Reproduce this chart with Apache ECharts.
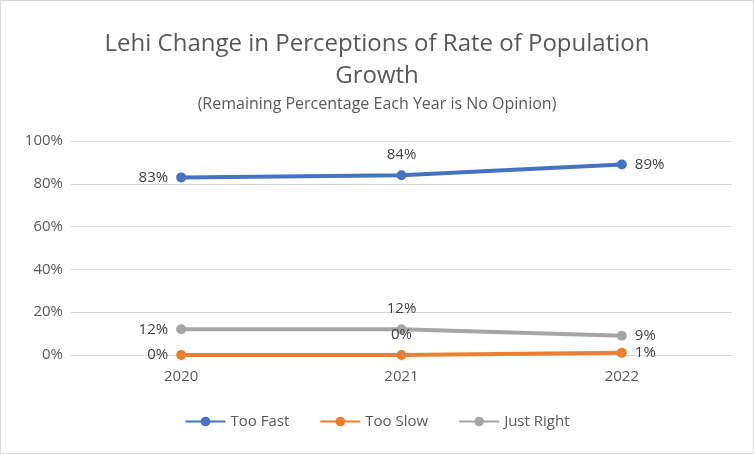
<!DOCTYPE html>
<html>
<head>
<meta charset="utf-8">
<script src="https://cdn.jsdelivr.net/npm/echarts@6/dist/echarts.min.js"></script>
<style>
html,body{margin:0;padding:0;background:#fff;}
#chart{width:752px;height:452px;border:1px solid #d9d9d9;}
</style>
</head>
<body>
<div id="chart"></div>
<script>
var years = ['2020', '2021', '2022'];
var tooFast = [83, 84, 89];
var tooSlow = [0, 0, 1];
var justRight = [12, 12, 9];
var yTicks = [0, 20, 40, 60, 80, 100];

var labelPos = ['left', 'top', 'right'];

function makeSeries(name, data, color) {
	return {
		name: name,
		type: 'line',
		data: data.map(function (v, i) {
			return { value: v, label: { position: labelPos[i] } };
		}),
		symbol: 'circle',
		symbolSize: 10,
		lineStyle: { width: 4, color: color },
		itemStyle: { color: color },
		label: {
			show: true,
			formatter: '{c}%',
			fontSize: 15,
			color: '#404040',
			fontFamily: 'Open Sans',
			distance: 8
		}
	};
}

var myChart = echarts.init(document.getElementById('chart'));
var option = {
	textStyle: { fontFamily: 'Open Sans' },
	title: {
		text: 'Lehi Change in Perceptions of Rate of Population\nGrowth',
		subtext: '(Remaining Percentage Each Year is No Opinion)',
		left: 'center',
		top: 22,
		itemGap: 4,
		textStyle: { fontSize: 24, fontWeight: 'normal', color: '#595959', lineHeight: 32, fontFamily: 'Open Sans' },
		subtextStyle: { fontSize: 16, color: '#595959', fontFamily: 'Open Sans' }
	},
	legend: {
		bottom: 19,
		itemWidth: 40,
		itemHeight: 12,
		itemGap: 30,
		textStyle: { fontSize: 15, color: '#595959' },
		data: ['Too Fast', 'Too Slow', 'Just Right']
	},
	grid: { left: 70, right: 21, top: 140, bottom: 98 },
	xAxis: {
		type: 'category',
		data: years,
		axisTick: { show: false },
		axisLine: { lineStyle: { color: '#d9d9d9' } },
		axisLabel: { fontSize: 15, color: '#595959', margin: 14 }
	},
	yAxis: {
		type: 'value',
		min: 0,
		max: 100,
		interval: 20,
		axisLabel: { fontSize: 15, color: '#595959', formatter: '{value}%' },
		splitLine: { lineStyle: { color: '#d9d9d9' } }
	},
	series: [
		makeSeries('Too Fast', tooFast, '#4472C4'),
		makeSeries('Too Slow', tooSlow, '#ED7D31'),
		makeSeries('Just Right', justRight, '#A5A5A5')
	]
};
myChart.setOption(option);
</script>
</body>
</html>
